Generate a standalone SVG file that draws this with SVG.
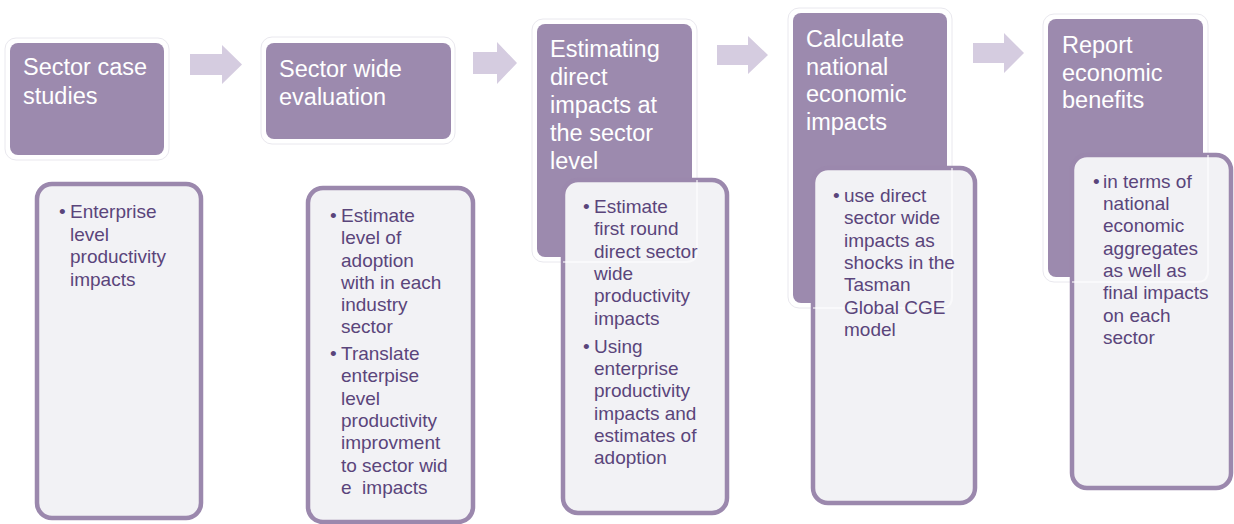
<svg xmlns="http://www.w3.org/2000/svg" width="1234" height="524" viewBox="0 0 1234 524">
<style>
.halo{fill:#ffffff;stroke:#e9e8ee;stroke-width:1}
.halo2{fill:none;stroke:#ffffff;stroke-width:2;opacity:0.55}
.head{fill:#9c8aae}
.card{fill:#f2f2f5;stroke:#9b88ad;stroke-width:4.5}
.ht{font-family:"Liberation Sans",Arial,sans-serif;font-size:23.5px;fill:#ffffff}
.bt{font-family:"Liberation Sans",Arial,sans-serif;font-size:19px;fill:#5a457b}
.arrow{fill:#d5cce0}
</style>
<rect width="1234" height="524" fill="#ffffff"/>
<g id="connectors">
<polygon class="arrow" points="190,54 222,54 222,45 242,64.5 222,84 222,75 190,75"/>
<polygon class="arrow" points="473,52 497,52 497,42 517,63 497,84 497,74 473,74"/>
<polygon class="arrow" points="717,45 748,45 748,36 768,55 748,74 748,65 717,65"/>
<polygon class="arrow" points="973,43 1004,43 1004,33 1024,53 1004,73 1004,63 973,63"/>
</g>
<g id="step1">
<rect class="halo" x="5" y="38" width="164" height="122" rx="11"/>
<rect class="head" x="10" y="43" width="154" height="112" rx="8"/>
<text class="ht" x="23" y="75">Sector case</text>
<text class="ht" x="23" y="104">studies</text>
<rect class="card" x="37" y="184" width="164" height="334" rx="15"/>
<text class="bt"><tspan x="59" y="218">•</tspan><tspan x="70" y="218">Enterprise</tspan><tspan x="70" y="240.5">level</tspan><tspan x="70" y="263">productivity</tspan><tspan x="70" y="285.5">impacts</tspan></text>
</g>
<g id="step2">
<rect class="halo" x="261" y="37" width="194" height="107" rx="11"/>
<rect class="head" x="266" y="43" width="185" height="96" rx="8"/>
<text class="ht" x="279" y="77">Sector wide</text>
<text class="ht" x="279" y="105">evaluation</text>
<rect class="card" x="308" y="188" width="165" height="334" rx="15"/>
<text class="bt" xml:space="preserve"><tspan x="330" y="222">•</tspan><tspan x="341" y="222">Estimate</tspan><tspan x="341" y="244">level of</tspan><tspan x="341" y="267">adoption</tspan><tspan x="341" y="289">with in each</tspan><tspan x="341" y="311">industry</tspan><tspan x="341" y="333">sector</tspan><tspan x="330" y="360">•</tspan><tspan x="341" y="360">Translate</tspan><tspan x="341" y="382">enterpise</tspan><tspan x="341" y="405">level</tspan><tspan x="341" y="427">productivity</tspan><tspan x="341" y="449">improvment</tspan><tspan x="341" y="472">to sector wid</tspan><tspan x="341" y="494">e  impacts</tspan></text>
</g>
<g id="step3">
<rect class="halo" x="532" y="19" width="165" height="243" rx="11"/>
<rect class="head" x="537" y="24" width="155" height="233" rx="8"/>
<text class="ht" x="550" y="57">Estimating</text>
<text class="ht" x="550" y="85">direct</text>
<text class="ht" x="550" y="113">impacts at</text>
<text class="ht" x="550" y="141">the sector</text>
<text class="ht" x="550" y="169">level</text>
<rect class="card" x="563" y="180" width="164" height="333" rx="15"/>
<path class="halo2" d="M563,262 L686,262 Q697,262 697,251 L697,180"/>
<text class="bt"><tspan x="583" y="213">•</tspan><tspan x="594" y="213">Estimate</tspan><tspan x="594" y="235">first round</tspan><tspan x="594" y="258">direct sector</tspan><tspan x="594" y="280">wide</tspan><tspan x="594" y="302">productivity</tspan><tspan x="594" y="325">impacts</tspan><tspan x="583" y="353">•</tspan><tspan x="594" y="353">Using</tspan><tspan x="594" y="375">enterprise</tspan><tspan x="594" y="397">productivity</tspan><tspan x="594" y="420">impacts and</tspan><tspan x="594" y="442">estimates of</tspan><tspan x="594" y="464">adoption</tspan></text>
</g>
<g id="step4">
<rect class="halo" x="788" y="8" width="164" height="300" rx="11"/>
<rect class="head" x="793" y="13" width="154" height="290" rx="8"/>
<text class="ht" x="806" y="47">Calculate</text>
<text class="ht" x="806" y="75">national</text>
<text class="ht" x="806" y="102">economic</text>
<text class="ht" x="806" y="130">impacts</text>
<rect class="card" x="813" y="168" width="162" height="335" rx="15"/>
<path class="halo2" d="M813,308 L941,308 Q952,308 952,297 L952,168"/>
<text class="bt"><tspan x="833" y="202">•</tspan><tspan x="844" y="202">use direct</tspan><tspan x="844" y="224">sector wide</tspan><tspan x="844" y="247">impacts as</tspan><tspan x="844" y="269">shocks in the</tspan><tspan x="844" y="291">Tasman</tspan><tspan x="844" y="314">Global CGE</tspan><tspan x="844" y="336">model</tspan></text>
</g>
<g id="step5">
<rect class="halo" x="1043" y="14" width="165" height="268" rx="11"/>
<rect class="head" x="1048" y="19" width="155" height="258" rx="8"/>
<text class="ht" x="1062" y="53">Report</text>
<text class="ht" x="1062" y="81">economic</text>
<text class="ht" x="1062" y="108">benefits</text>
<rect class="card" x="1072" y="155" width="159" height="333" rx="15"/>
<path class="halo2" d="M1072,282 L1197,282 Q1208,282 1208,271 L1208,155"/>
<text class="bt"><tspan x="1093" y="188">•</tspan><tspan x="1103" y="188">in terms of</tspan><tspan x="1103" y="210">national</tspan><tspan x="1103" y="232">economic</tspan><tspan x="1103" y="255">aggregates</tspan><tspan x="1103" y="277">as well as</tspan><tspan x="1103" y="299">final impacts</tspan><tspan x="1103" y="322">on each</tspan><tspan x="1103" y="344">sector</tspan></text>
</g>
</svg>
